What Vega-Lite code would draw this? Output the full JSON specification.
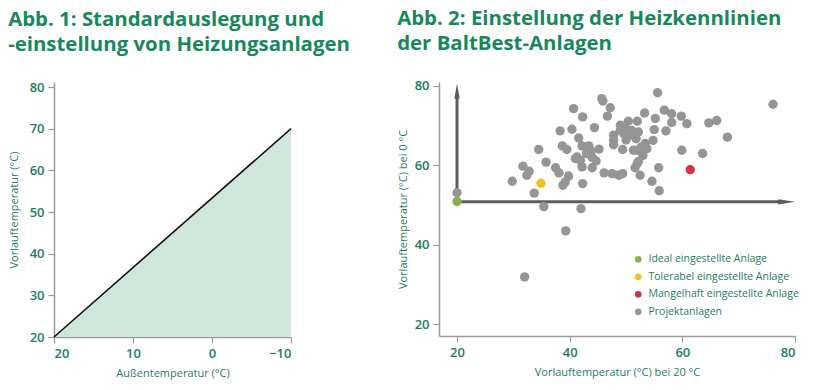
{
  "$schema": "https://vega.github.io/schema/vega-lite/v6.json",
  "background": "white",
  "padding": {"left": 8, "top": 8, "right": 5, "bottom": 5},
  "spacing": 47,
  "config": {
    "view": {"stroke": null},
    "font": "Open Sans",
    "title": {"font": "Open Sans", "fontSize": 20.4, "fontWeight": "bold", "color": "#17885a", "anchor": "start", "frame": "bounds", "lineHeight": 25, "offset": 26},
    "axis": {
      "domainColor": "#9a9a9a", "domainWidth": 1.5, "tickColor": "#9a9a9a", "tickSize": 6, "tickWidth": 1.2,
      "labelColor": "#1f7d5c", "labelFont": "Open Sans", "labelFontSize": 13, "labelFontWeight": 600,
      "titleColor": "#1f7d5c", "titleFont": "Open Sans", "titleFontSize": 11, "titleFontWeight": "normal",
      "grid": false
    },
    "legend": {"labelColor": "#1f7d5c", "labelFont": "Open Sans", "labelFontSize": 10.5}
  },
  "hconcat": [
    {
      "width": 237,
      "height": 255,
      "title": {"text": ["Abb. 1: Standardauslegung und", "-einstellung von Heizungsanlagen"]},
      "data": {"values": [
        {"aussen": 20, "vorlauf": 20, "basis": 20},
        {"aussen": -10, "vorlauf": 70, "basis": 20}
      ]},
      "encoding": {
        "x": {"field": "aussen", "type": "quantitative", "scale": {"domain": [20, -10], "nice": false, "zero": false},
          "axis": {"values": [20, 10, 0, -10], "title": "Außentemperatur (°C)", "titlePadding": 7, "labelPadding": 4}},
        "y": {"field": "vorlauf", "type": "quantitative", "scale": {"domain": [20, 81.2], "nice": false, "zero": false},
          "axis": {"values": [20, 30, 40, 50, 60, 70, 80], "title": "Vorlauftemperatur (°C)", "titlePadding": 10, "labelPadding": 4}}
      },
      "layer": [
        {"mark": {"type": "area", "color": "#cfe6da", "opacity": 1}, "encoding": {"y2": {"field": "basis"}}},
        {"mark": {"type": "line", "color": "#111111", "strokeWidth": 1.6}, "encoding": {}}
      ]
    },
    {
      "width": 356,
      "height": 254,
      "title": {"text": ["Abb. 2: Einstellung der Heizkennlinien", "der BaltBest-Anlagen"]},
      "layer": [
        {
          "data": {"values": [
            {"xa": 20, "ya": 50.8, "xb": 77.5, "yb": 50.8},
            {"xa": 20, "ya": 50.8, "xb": 20, "yb": 77.5}
          ]},
          "mark": {"type": "rule", "color": "#5c5c5c", "strokeWidth": 3},
          "encoding": {
            "x": {"field": "xa", "type": "quantitative", "scale": {"domain": [16.8, 80], "nice": false, "zero": false},
              "axis": {"values": [20, 40, 60, 80], "title": "Vorlauftemperatur (°C) bei 20 °C", "titlePadding": 7, "labelPadding": 4}},
            "y": {"field": "ya", "type": "quantitative", "scale": {"domain": [17, 81], "nice": false, "zero": false},
              "axis": {"values": [20, 40, 60, 80], "title": "Vorlauftemperatur (°C) bei 0 °C", "titlePadding": 6, "labelPadding": 4}},
            "x2": {"field": "xb"},
            "y2": {"field": "yb"}
          }
        },
        {
          "data": {"values": [{"xh": 20, "yh": 78.7}]},
          "mark": {"type": "point", "filled": true, "opacity": 1, "color": "#5c5c5c", "shape": "M0,-1L0.36,1L-0.36,1Z", "size": 225},
          "encoding": {"x": {"field": "xh", "type": "quantitative"}, "y": {"field": "yh", "type": "quantitative"}}
        },
        {
          "data": {"values": [{"xh": 78.5, "yh": 50.8}]},
          "mark": {"type": "point", "filled": true, "opacity": 1, "color": "#5c5c5c", "shape": "M1,0L-1,-0.32L-1,0.32Z", "size": 279},
          "encoding": {"x": {"field": "xh", "type": "quantitative"}, "y": {"field": "yh", "type": "quantitative"}}
        },
        {
          "data": {"values": [
            {"x": 20.0, "y": 53.1, "k": "Projektanlagen"},
            {"x": 29.8, "y": 56.0, "k": "Projektanlagen"},
            {"x": 31.7, "y": 59.8, "k": "Projektanlagen"},
            {"x": 32.4, "y": 57.5, "k": "Projektanlagen"},
            {"x": 32.8, "y": 58.5, "k": "Projektanlagen"},
            {"x": 33.7, "y": 53.0, "k": "Projektanlagen"},
            {"x": 34.5, "y": 64.0, "k": "Projektanlagen"},
            {"x": 35.4, "y": 49.6, "k": "Projektanlagen"},
            {"x": 35.8, "y": 60.8, "k": "Projektanlagen"},
            {"x": 32.0, "y": 31.9, "k": "Projektanlagen"},
            {"x": 37.5, "y": 59.4, "k": "Projektanlagen"},
            {"x": 38.1, "y": 58.1, "k": "Projektanlagen"},
            {"x": 38.3, "y": 68.7, "k": "Projektanlagen"},
            {"x": 38.7, "y": 64.9, "k": "Projektanlagen"},
            {"x": 39.5, "y": 64.0, "k": "Projektanlagen"},
            {"x": 38.8, "y": 55.0, "k": "Projektanlagen"},
            {"x": 39.2, "y": 55.8, "k": "Projektanlagen"},
            {"x": 39.8, "y": 57.3, "k": "Projektanlagen"},
            {"x": 39.3, "y": 43.5, "k": "Projektanlagen"},
            {"x": 40.4, "y": 69.1, "k": "Projektanlagen"},
            {"x": 40.7, "y": 74.3, "k": "Projektanlagen"},
            {"x": 41.0, "y": 61.7, "k": "Projektanlagen"},
            {"x": 41.3, "y": 62.1, "k": "Projektanlagen"},
            {"x": 41.9, "y": 61.3, "k": "Projektanlagen"},
            {"x": 42.2, "y": 59.6, "k": "Projektanlagen"},
            {"x": 41.6, "y": 66.9, "k": "Projektanlagen"},
            {"x": 42.2, "y": 64.9, "k": "Projektanlagen"},
            {"x": 42.3, "y": 72.2, "k": "Projektanlagen"},
            {"x": 42.3, "y": 55.4, "k": "Projektanlagen"},
            {"x": 42.0, "y": 49.1, "k": "Projektanlagen"},
            {"x": 43.0, "y": 63.0, "k": "Projektanlagen"},
            {"x": 43.4, "y": 64.9, "k": "Projektanlagen"},
            {"x": 43.8, "y": 63.6, "k": "Projektanlagen"},
            {"x": 44.0, "y": 59.4, "k": "Projektanlagen"},
            {"x": 44.0, "y": 62.0, "k": "Projektanlagen"},
            {"x": 44.4, "y": 69.5, "k": "Projektanlagen"},
            {"x": 44.7, "y": 61.1, "k": "Projektanlagen"},
            {"x": 45.2, "y": 64.1, "k": "Projektanlagen"},
            {"x": 45.7, "y": 76.8, "k": "Projektanlagen"},
            {"x": 45.9, "y": 76.2, "k": "Projektanlagen"},
            {"x": 46.1, "y": 58.1, "k": "Projektanlagen"},
            {"x": 46.7, "y": 72.4, "k": "Projektanlagen"},
            {"x": 47.2, "y": 74.5, "k": "Projektanlagen"},
            {"x": 47.5, "y": 57.9, "k": "Projektanlagen"},
            {"x": 47.8, "y": 67.6, "k": "Projektanlagen"},
            {"x": 47.8, "y": 66.3, "k": "Projektanlagen"},
            {"x": 47.8, "y": 65.2, "k": "Projektanlagen"},
            {"x": 48.7, "y": 57.5, "k": "Projektanlagen"},
            {"x": 49.0, "y": 70.1, "k": "Projektanlagen"},
            {"x": 49.0, "y": 68.8, "k": "Projektanlagen"},
            {"x": 49.4, "y": 64.0, "k": "Projektanlagen"},
            {"x": 49.4, "y": 57.9, "k": "Projektanlagen"},
            {"x": 49.6, "y": 68.0, "k": "Projektanlagen"},
            {"x": 49.9, "y": 69.2, "k": "Projektanlagen"},
            {"x": 50.0, "y": 66.4, "k": "Projektanlagen"},
            {"x": 50.4, "y": 71.1, "k": "Projektanlagen"},
            {"x": 50.9, "y": 67.6, "k": "Projektanlagen"},
            {"x": 51.0, "y": 68.8, "k": "Projektanlagen"},
            {"x": 51.3, "y": 63.8, "k": "Projektanlagen"},
            {"x": 51.6, "y": 59.4, "k": "Projektanlagen"},
            {"x": 51.8, "y": 66.7, "k": "Projektanlagen"},
            {"x": 51.9, "y": 63.8, "k": "Projektanlagen"},
            {"x": 52.0, "y": 71.1, "k": "Projektanlagen"},
            {"x": 52.0, "y": 60.5, "k": "Projektanlagen"},
            {"x": 52.2, "y": 68.4, "k": "Projektanlagen"},
            {"x": 52.2, "y": 61.0, "k": "Projektanlagen"},
            {"x": 52.5, "y": 57.5, "k": "Projektanlagen"},
            {"x": 52.7, "y": 64.6, "k": "Projektanlagen"},
            {"x": 53.0, "y": 62.5, "k": "Projektanlagen"},
            {"x": 53.3, "y": 73.2, "k": "Projektanlagen"},
            {"x": 53.4, "y": 65.5, "k": "Projektanlagen"},
            {"x": 53.7, "y": 64.2, "k": "Projektanlagen"},
            {"x": 54.6, "y": 56.0, "k": "Projektanlagen"},
            {"x": 54.8, "y": 66.3, "k": "Projektanlagen"},
            {"x": 55.0, "y": 69.0, "k": "Projektanlagen"},
            {"x": 55.2, "y": 71.8, "k": "Projektanlagen"},
            {"x": 55.6, "y": 78.3, "k": "Projektanlagen"},
            {"x": 55.8, "y": 59.4, "k": "Projektanlagen"},
            {"x": 55.9, "y": 53.6, "k": "Projektanlagen"},
            {"x": 56.8, "y": 73.9, "k": "Projektanlagen"},
            {"x": 57.1, "y": 68.7, "k": "Projektanlagen"},
            {"x": 58.1, "y": 73.0, "k": "Projektanlagen"},
            {"x": 58.1, "y": 70.8, "k": "Projektanlagen"},
            {"x": 59.8, "y": 72.4, "k": "Projektanlagen"},
            {"x": 59.9, "y": 63.8, "k": "Projektanlagen"},
            {"x": 60.8, "y": 70.5, "k": "Projektanlagen"},
            {"x": 63.6, "y": 63.0, "k": "Projektanlagen"},
            {"x": 64.7, "y": 70.7, "k": "Projektanlagen"},
            {"x": 66.1, "y": 71.3, "k": "Projektanlagen"},
            {"x": 68.0, "y": 67.1, "k": "Projektanlagen"},
            {"x": 76.1, "y": 75.4, "k": "Projektanlagen"},
            {"x": 20.0, "y": 50.9, "k": "Ideal eingestellte Anlage"},
            {"x": 34.9, "y": 55.5, "k": "Tolerabel eingestellte Anlage"},
            {"x": 61.4, "y": 58.9, "k": "Mangelhaft eingestellte Anlage"}
          ]},
          "mark": {"type": "point", "filled": true, "opacity": 1, "size": 88},
          "encoding": {
            "x": {"field": "x", "type": "quantitative"},
            "y": {"field": "y", "type": "quantitative"},
            "color": {"field": "k", "type": "nominal",
              "scale": {"domain": ["Ideal eingestellte Anlage", "Tolerabel eingestellte Anlage", "Mangelhaft eingestellte Anlage", "Projektanlagen"],
                        "range": ["#86b04c", "#f2c21a", "#d5314d", "#959595"]},
              "legend": {"title": null, "orient": "none", "legendX": 579, "legendY": 172, "symbolType": "circle", "symbolSize": 45, "symbolOpacity": 1, "rowPadding": 6.5, "labelOffset": 5}}
          }
        }
      ]
    }
  ]
}
